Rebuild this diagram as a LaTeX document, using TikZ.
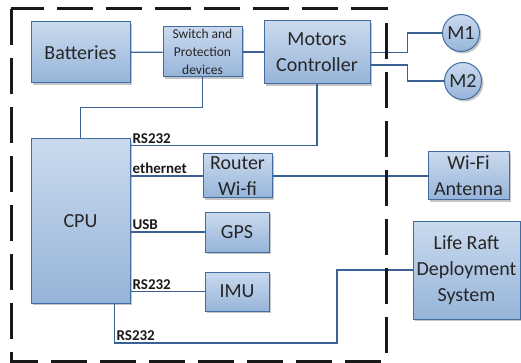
\documentclass[tikz,border=0pt]{standalone}
\usepackage{fontspec}
\setmainfont{Carlito}
\usepackage{tikz}
\usetikzlibrary{positioning,shadows,calc}
\definecolor{umplere1}{RGB}{202,218,238}
\definecolor{umplere2}{RGB}{150,180,217}
\definecolor{contur}{RGB}{66,108,160}
\definecolor{firul}{RGB}{58,98,148}
\definecolor{scris}{RGB}{38,38,38}
\tikzset{
  bloc/.style     = {draw=contur, line width=1pt, top color=umplere1, bottom color=umplere2,
                     align=center, inner sep=1pt, text=scris,
                     font=\fontsize{20}{26}\selectfont,
                     drop shadow={shadow xshift=2pt, shadow yshift=-2pt, fill=black!45, opacity=.5}},
  blocmic/.style  = {bloc, font=\fontsize{13.5}{18}\selectfont},
  motor/.style    = {bloc, circle, minimum size=37pt, inner sep=0pt},
  eticheta/.style = {font=\fontsize{15}{15}\selectfont\bfseries, inner sep=1.5pt, text=black!90},
  fir/.style      = {draw=firul, line width=1.2pt},
  chenar/.style   = {draw=black!90, line width=3pt, dash pattern=on 36pt off 13pt}
}
\begin{document}
\begin{tikzpicture}[x=1pt, y=-1pt]
		\useasboundingbox (0,0) rectangle (521,363);
		\node[bloc, minimum width=99pt, minimum height=61pt] (bat) at (80.5,52.5) {Batteries};
		\node[blocmic, minimum width=79pt, minimum height=50pt] (sw) at (202.5,52) {Switch and\\ Protection\\ devices};
		\node[bloc, minimum width=106pt, minimum height=63pt] (mc) at (317,52.5) {Motors\\ Controller};
		\node[motor] (m1) at (461,33) {M1};
		\node[motor] (m2) at (463,81) {M2};
		\node[bloc, minimum width=99pt, minimum height=164pt] (cpu) at (80.5,221) {CPU};
		\node[bloc, minimum width=69pt, minimum height=44pt] (router) at (237.5,176) {Router\\ Wi-fi};
		\node[bloc, minimum width=64pt, minimum height=40pt] (gps) at (237,232) {GPS};
		\node[bloc, minimum width=64pt, minimum height=39pt] (imu) at (237,291.5) {IMU};
		\node[bloc, minimum width=81pt, minimum height=48pt] (ant) at (468.5,176) {Wi-Fi\\ Antenna};
		\node[bloc, minimum width=107pt, minimum height=98pt] (lrds) at (466.5,270) {Life Raft\\ Deployment\\ System};
		\coordinate (colt) at (337,343);

		\draw[fir] (bat) -- (sw);
		\draw[fir] (sw) -- (sw -| mc.west);
		\draw[fir] (sw.south) -- ++(0,30) -| (cpu.north);
		\draw[fir] (mc.east) -- ++(37,0) |- (m1.west);
		\draw[fir] ([yshift=-12.5pt]mc.east) -- ++(37,0) |- (m2.west);
		\draw[fir] ([yshift=-7pt]cpu.north east) -| node[eticheta, pos=0, anchor=south west] {RS232} (mc.south);
		\draw[fir] (cpu.east |- router.west) -- node[eticheta, pos=0, anchor=south west] {ethernet} (router.west);
		\draw[fir] (router.east) -- (ant.west);
		\draw[fir] (cpu.east |- gps.west) -- node[eticheta, pos=0, anchor=south west] {USB} (gps.west);
		\draw[fir] (cpu.east |- imu.west) -- node[eticheta, pos=0, anchor=south west] {RS232} (imu.west);
		\draw[fir] ([xshift=-16pt]cpu.south east) |- node[eticheta, pos=0.5, anchor=south west] {RS232} (colt) |- (lrds.west);
		\draw[chenar] (11,9) rectangle (386,361);
	\end{tikzpicture}
\end{document}
